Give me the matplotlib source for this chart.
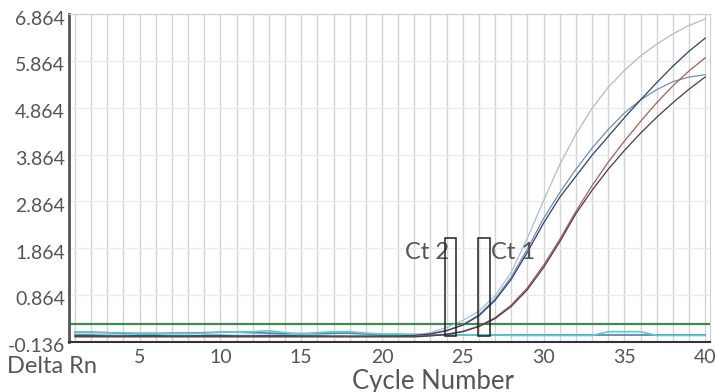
import numpy as np
import matplotlib.pyplot as plt
import matplotlib.transforms as mtransforms
from matplotlib.patches import Rectangle

plt.rcParams['font.family'] = ['Lato', 'DejaVu Sans']

cycles = list(range(1, 41))

# amplification curves (Delta Rn per cycle)
curve_a = [0.02, 0.01, 0.01, 0.00, 0.00, 0.01, 0.00, -0.01, 0.00, 0.01,
           0.00, 0.00, -0.01, 0.00, 0.00, 0.00, 0.00, 0.00, 0.00, 0.00,
           -0.01, 0.01, 0.06, 0.17, 0.32, 0.52, 0.85, 1.35, 2.08, 2.88,
           3.65, 4.30, 4.85, 5.30, 5.66, 5.97, 6.22, 6.44, 6.62, 6.76]
curve_b = [0.00, 0.00, -0.01, -0.01, 0.00, 0.00, -0.01, -0.01, 0.00, 0.00,
           -0.01, -0.01, 0.00, 0.00, -0.01, -0.01, -0.02, -0.02, -0.02, -0.01,
           -0.01, 0.00, 0.03, 0.10, 0.22, 0.42, 0.75, 1.20, 1.78, 2.40,
           2.95, 3.40, 3.85, 4.25, 4.65, 5.03, 5.40, 5.75, 6.07, 6.35]
curve_c = [-0.02, -0.02, -0.02, -0.02, -0.02, -0.02, -0.02, -0.02, -0.02, -0.02,
           -0.02, -0.02, -0.02, -0.02, -0.02, -0.02, -0.02, -0.02, -0.02, -0.02,
           -0.02, -0.02, 0.00, 0.03, 0.09, 0.20, 0.38, 0.65, 1.02, 1.50,
           2.05, 2.65, 3.20, 3.70, 4.15, 4.57, 4.97, 5.33, 5.65, 5.93]
curve_d = [0.01, 0.01, 0.00, 0.00, 0.00, 0.00, 0.00, 0.00, 0.00, 0.00,
           0.00, 0.00, 0.00, 0.00, 0.00, 0.00, 0.00, -0.01, -0.01, -0.01,
           -0.01, 0.00, 0.04, 0.11, 0.23, 0.44, 0.78, 1.25, 1.85, 2.50,
           3.05, 3.55, 4.00, 4.40, 4.75, 5.03, 5.25, 5.42, 5.52, 5.57]
curve_e = [-0.03, -0.03, -0.03, -0.03, -0.03, -0.03, -0.03, -0.03, -0.03, -0.03,
           -0.03, -0.03, -0.03, -0.03, -0.03, -0.03, -0.03, -0.03, -0.03, -0.03,
           -0.03, -0.03, -0.01, 0.02, 0.08, 0.19, 0.36, 0.62, 0.98, 1.45,
           2.00, 2.60, 3.10, 3.55, 3.95, 4.32, 4.66, 4.97, 5.26, 5.52]
# no-template controls
ntc_cyan = [0.06, 0.06, 0.06, 0.06, 0.05, 0.05, 0.04, 0.04, 0.05, 0.07,
            0.07, 0.08, 0.10, 0.06, 0.03, 0.06, 0.08, 0.08, 0.05, 0.03,
            0.03, 0.02, 0.02, 0.01, 0.01, 0.01, 0.01, 0.00, 0.00, 0.00,
            0.00, 0.00, 0.00, 0.08, 0.08, 0.08, 0.00, 0.00, 0.00, 0.00]
ntc_blue = [0.07, 0.07, 0.06, 0.04, 0.04, 0.04, 0.05, 0.05, 0.06, 0.07,
            0.07, 0.06, 0.05, 0.04, 0.04, 0.04, 0.05, 0.05, 0.03, 0.02,
            0.02, 0.02, 0.01, 0.01, 0.01, 0.01, 0.01, 0.01, 0.01, 0.01,
            0.01, 0.01, 0.01, 0.01, 0.01, 0.01, 0.01, 0.01, 0.01, 0.01]

threshold = 0.24
ct_boxes = [(23.9, 24.6), (25.95, 26.7)]
ct_labels = ['Ct 2', 'Ct 1']
ct_label_x = [22.8, 28.1]
yticks = [-0.136, 0.864, 1.864, 2.864, 3.864, 4.864, 5.864, 6.864]
xticks = [5, 10, 15, 20, 25, 30, 35, 40]

fig = plt.figure(figsize=(7.15, 3.92), dpi=100)
ax = fig.add_axes([0.0965, 0.128, 0.8965, 0.836])

for c in cycles:
    ax.axvline(c, color='#d4d4d4', lw=1, zorder=0)
for v in yticks:
    ax.axhline(v, color='#ebebeb', lw=1, zorder=0)

ax.plot(cycles, ntc_blue, color='#5a7ab0', lw=1.2)
ax.plot(cycles, ntc_cyan, color='#48d4d0', lw=1.2)
ax.axhline(threshold, color='#3f8a4f', lw=1.6)

ax.plot(cycles, curve_a, color='#a9bfcc', lw=0.9)
ax.plot(cycles, curve_d, color='#6f8fb2', lw=0.9)
ax.plot(cycles, curve_b, color='#2f3f70', lw=0.9)
ax.plot(cycles, curve_c, color='#b05a5a', lw=0.9)
ax.plot(cycles, curve_e, color='#4a3a48', lw=0.9)

for (x0, x1), lab, lx in zip(ct_boxes, ct_labels, ct_label_x):
    ax.add_patch(Rectangle((x0, -0.01), x1 - x0, 2.09, fill=False,
                           edgecolor='#222222', lw=1.1, zorder=5))
    ax.text(lx, 1.78, lab, fontsize=17, color='#555555', ha='center', va='center')

ax.set_xlim(0.63, 40.3)
ax.set_ylim(-0.136, 6.864)
ax.set_xticks(xticks)
ax.set_yticks(yticks)
ax.set_yticklabels(['%.3f' % v for v in yticks])
ax.tick_params(length=0, labelsize=14, labelcolor='#555555', pad=5)
ax.tick_params(axis='y', pad=3)
shift = mtransforms.ScaledTranslation(0, -2.5 / 72, fig.dpi_scale_trans)
for lbl in ax.get_yticklabels():
    lbl.set_transform(lbl.get_transform() + shift)

ax.spines['left'].set_color('#555555')
ax.spines['left'].set_linewidth(2)
ax.spines['bottom'].set_color('#333333')
ax.spines['bottom'].set_linewidth(1.5)
ax.spines['top'].set_color('#cccccc')
ax.spines['right'].set_color('#cccccc')

fig.text(0.010, 0.064, 'Delta Rn', fontsize=17, color='#555555', va='center')
fig.text(0.605, 0.028, 'Cycle Number', fontsize=18.5, color='#555555',
         ha='center', va='center')

fig.savefig('out.png', dpi=100)
